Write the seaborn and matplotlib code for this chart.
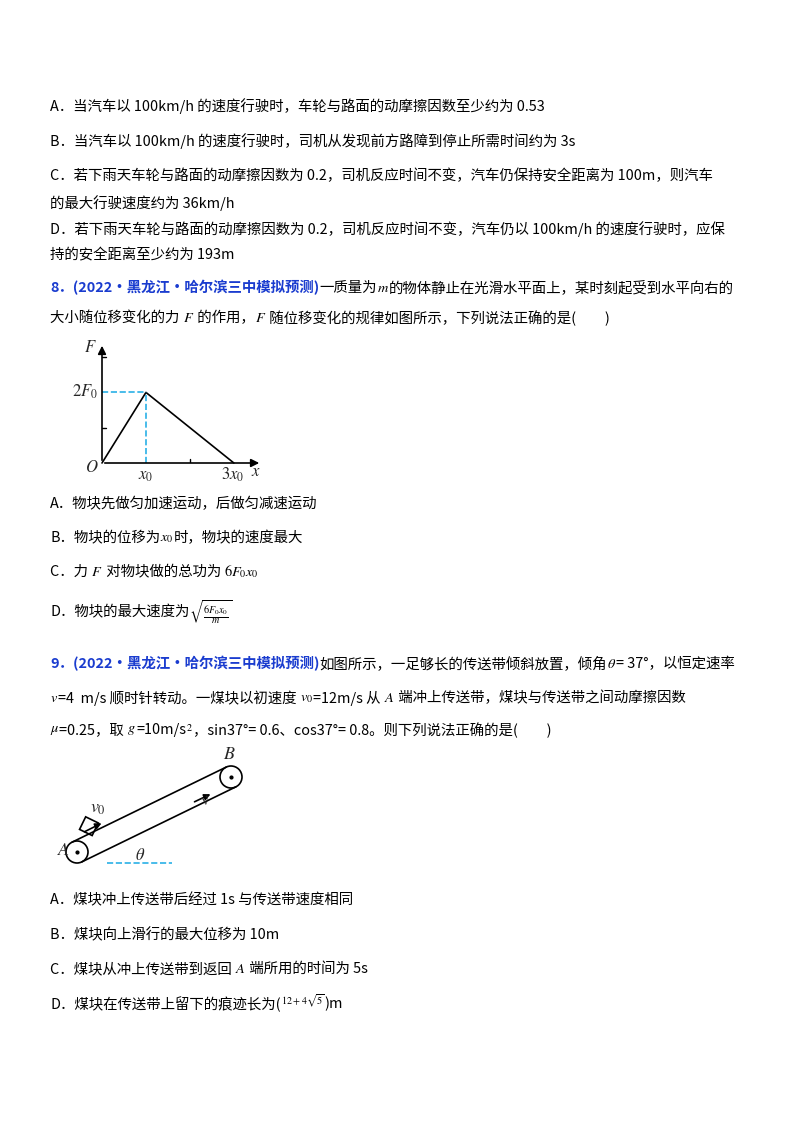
import matplotlib
matplotlib.use("Agg")
import matplotlib.pyplot as plt
import seaborn as sns
import numpy as np
import pandas as pd
from matplotlib.patches import Circle, Rectangle, FancyArrowPatch

sns.set_theme(style="white")
plt.rcParams['font.family'] = ['Noto Sans CJK SC', 'DejaVu Sans']
plt.rcParams['mathtext.fontset'] = 'stix'

# F-x graph data (units of x0 and F0)
x_pts = [0, 1, 3]
f_pts = [0, 2, 0]
x_ticks = [1, 2, 3]
f_ticks = [1, 2]

BLUE = "#1a3ccf"
fig = plt.figure(figsize=(8, 11.32), dpi=100)
ax = fig.add_axes([0, 0, 1, 1])
ax.set_xlim(0, 800)
ax.set_ylim(1132, 0)
ax.axis("off")
renderer = fig.canvas.get_renderer()
FS = 10.4


def seq(x, y, parts):
    for txt, color, weight in parts:
        t = ax.text(x, y, txt, color=color, fontweight=weight, fontsize=FS, va="center", ha="left")
        bb = t.get_window_extent(renderer=renderer)
        x += bb.width


def line(x, y, txt):
    seq(x, y, [(txt, "black", "normal")])


line(50, 106, "A．当汽车以 100km/h 的速度行驶时，车轮与路面的动摩擦因数至少约为 0.53")
line(50, 141, "B．当汽车以 100km/h 的速度行驶时，司机从发现前方路障到停止所需时间约为 3s")
line(50, 176, "C．若下雨天车轮与路面的动摩擦因数为 0.2，司机反应时间不变，汽车仍保持安全距离为 100m，则汽车")
line(50, 203, "的最大行驶速度约为 36km/h")
line(50, 229, "D．若下雨天车轮与路面的动摩擦因数为 0.2，司机反应时间不变，汽车仍以 100km/h 的速度行驶时，应保")
line(50, 255, "持的安全距离至少约为 193m")

seq(50, 288, [("8．(2022·黑龙江·哈尔滨三中模拟预测)", BLUE, "bold"),
              ("一质量为", "black", "normal"), (r"$m$", "black", "normal"),
              ("的物体静止在光滑水平面上，某时刻起受到水平向右的", "black", "normal")])
seq(50, 318, [("大小随位移变化的力 ", "black", "normal"), (r"$F$", "black", "normal"),
              (" 的作用，", "black", "normal"), (r"$F$", "black", "normal"),
              (" 随位移变化的规律如图所示，下列说法正确的是(　　)", "black", "normal")])

# F-x graph
gx = fig.add_axes([102 / 800, 1 - 463 / 1132, 160 / 800, 120 / 1132])
gx.set_xlim(0, 3.64)
gx.set_ylim(0, 3.4)
gx.axis("off")
df = pd.DataFrame({"x": x_pts, "F": f_pts})
sns.lineplot(data=df, x="x", y="F", ax=gx, color="black", lw=1.2, clip_on=False)
gx.plot([0, 1], [2, 2], ls="--", color="#2ab0e6", lw=1.2)
gx.plot([1, 1], [0, 2], ls="--", color="#2ab0e6", lw=1.2)
gx.annotate("", xy=(3.64, 0), xytext=(0, 0), arrowprops=dict(arrowstyle="-|>", color="black", lw=1.2))
gx.annotate("", xy=(0, 3.4), xytext=(0, 0), arrowprops=dict(arrowstyle="-|>", color="black", lw=1.2))
for t in x_ticks[1:2]:
    gx.plot([t, t], [0, 0.1], color="black", lw=1)
gx.plot([0, 0.1], [1, 1], color="black", lw=1)
gx.plot([0, 0.1], [3, 3], color="black", lw=1)
ax.text(92, 467, r"$O$", fontsize=12, ha="center", va="center")
ax.text(146, 475, r"$x_0$", fontsize=12, ha="center", va="center")
ax.text(233, 475, r"$3x_0$", fontsize=12, ha="center", va="center")
ax.text(256, 471, r"$x$", fontsize=12, ha="center", va="center")
ax.text(85, 392, r"$2F_0$", fontsize=12, ha="center", va="center")
ax.text(90, 347, r"$F$", fontsize=12, ha="center", va="center")

line(50, 504, "A．物块先做匀加速运动，后做匀减速运动")
seq(50, 538, [("B．物块的位移为", "black", "normal"), (r"$x_0$", "black", "normal"),
              ("时，物块的速度最大", "black", "normal")])
seq(50, 572, [("C．力 ", "black", "normal"), (r"$F$", "black", "normal"),
              (" 对物块做的总功为 ", "black", "normal"), (r"$6F_0x_0$", "black", "normal")])
seq(50, 612, [("D．物块的最大速度为", "black", "normal"), (r"$\sqrt{\frac{6F_0x_0}{m}}$", "black", "normal")])

seq(50, 664, [("9．(2022·黑龙江·哈尔滨三中模拟预测)", BLUE, "bold"),
              ("如图所示，一足够长的传送带倾斜放置，倾角", "black", "normal"),
              (r"$\theta$", "black", "normal"), ("= 37°，以恒定速率", "black", "normal")])
seq(50, 698, [(r"$v$", "black", "normal"), ("=4  m/s 顺时针转动。一煤块以初速度 ", "black", "normal"),
              (r"$v_0$", "black", "normal"), ("=12m/s 从 ", "black", "normal"), (r"$A$", "black", "normal"),
              (" 端冲上传送带，煤块与传送带之间动摩擦因数", "black", "normal")])
seq(50, 730, [(r"$\mu$", "black", "normal"), ("=0.25，取 ", "black", "normal"), (r"$g$", "black", "normal"),
              ("=10m/s", "black", "normal"), (r"$^2$", "black", "normal"),
              ("，sin37°= 0.6、cos37°= 0.8。则下列说法正确的是(　　)", "black", "normal")])

# conveyor belt
ax_, ay_, bx_, by_, r = 77, 852, 231, 777, 11
ax.add_patch(Circle((ax_, ay_), r, fill=False, color="black", lw=1.2))
ax.add_patch(Circle((bx_, by_), r, fill=False, color="black", lw=1.2))
ax.plot([ax_, bx_], [ay_, by_], "o", color="black", ms=2)
dx, dy = bx_ - ax_, by_ - ay_
L = np.hypot(dx, dy)
nx, ny = dy / L, -dx / L
for s in (1, -1):
    ax.plot([ax_ + s * r * nx, bx_ + s * r * nx], [ay_ + s * r * ny, by_ + s * r * ny], color="black", lw=1.2)
ang = np.degrees(np.arctan2(-dy, dx))
ux, uy = dx / L, dy / L
cx, cy = ax_ + 22 * ux + (r + 7) * nx, ay_ + 22 * uy + (r + 7) * ny
ax.add_patch(Rectangle((cx - 7, cy - 7), 14, 14, angle=ang, rotation_point="center", fill=False, color="black", lw=1.2))
ax.plot([107, 172], [863, 863], ls="--", color="#2ab0e6", lw=1.2)
ax.text(140, 856, r"$\theta$", fontsize=12, ha="center", va="center")
ax.add_patch(FancyArrowPatch((82, 833), (104, 822), arrowstyle="-|>", mutation_scale=9, color="black", lw=1.2))
ax.text(98, 808, r"$v_0$", fontsize=13, ha="center", va="center")
ax.add_patch(FancyArrowPatch((192, 803), (213, 793), arrowstyle="-|>", mutation_scale=9, color="black", lw=1.2))
ax.text(205, 800, r"$v$", fontsize=13, ha="center", va="center", rotation=ang)
ax.text(229, 754, r"$B$", fontsize=13, ha="center", va="center")
ax.text(64, 850, r"$A$", fontsize=13, ha="center", va="center")

line(50, 900, "A．煤块冲上传送带后经过 1s 与传送带速度相同")
line(50, 935, "B．煤块向上滑行的最大位移为 10m")
seq(50, 969, [("C．煤块从冲上传送带到返回 ", "black", "normal"), (r"$A$", "black", "normal"),
              (" 端所用的时间为 5s", "black", "normal")])
seq(50, 1004, [("D．煤块在传送带上留下的痕迹长为(", "black", "normal"),
               (r"$^{12+4\sqrt{5}}$", "black", "normal"), (")m", "black", "normal")])

fig.savefig("out.png", dpi=100)
